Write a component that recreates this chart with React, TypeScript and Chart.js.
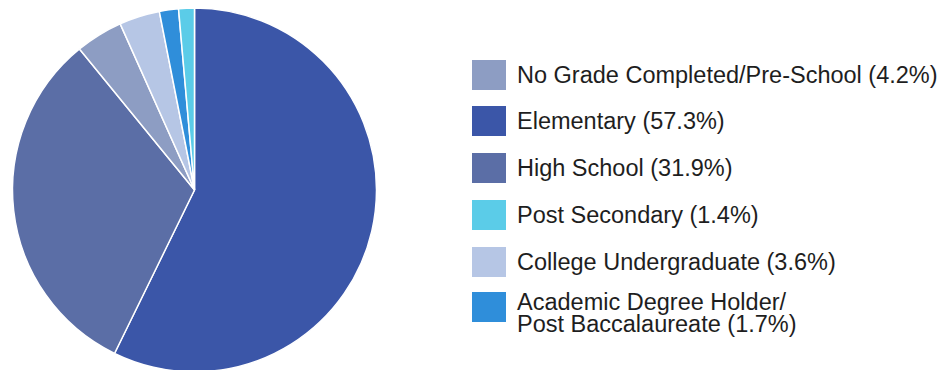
import React, { useEffect, useRef } from "react";
import { Chart, registerables } from "chart.js";

Chart.register(...registerables);

// Slices in drawing order (clockwise from 12 o'clock)
const categories = [
  "Elementary",
  "High School",
  "No Grade Completed/Pre-School",
  "College Undergraduate",
  "Academic Degree Holder/Post Baccalaureate",
  "Post Secondary",
];
const values = [57.3, 31.9, 4.2, 3.6, 1.7, 1.4];
const colors = ["#3b56a8", "#5b6ea6", "#8d9dc3", "#b6c6e5", "#2f8eda", "#5bcce8"];

// Legend order and labels (lines)
const legendOrder = [2, 0, 1, 5, 3, 4];
const legendLines = [
  ["Elementary (57.3%)"],
  ["High School (31.9%)"],
  ["No Grade Completed/Pre-School (4.2%)"],
  ["College Undergraduate (3.6%)"],
  ["Academic Degree Holder/", "Post Baccalaureate (1.7%)"],
  ["Post Secondary (1.4%)"],
];

export default function App() {
  const ref = useRef<HTMLCanvasElement | null>(null);

  useEffect(() => {
    if (!ref.current) return;
    const chart = new Chart(ref.current, {
      type: "pie",
      data: {
        labels: categories,
        datasets: [
          {
            data: values,
            backgroundColor: colors,
            borderColor: "#ffffff",
            borderWidth: 1.5,
          },
        ],
      },
      options: {
        animation: false,
        responsive: false,
        radius: 182,
        layout: { padding: 0 },
        plugins: {
          legend: { display: false },
          tooltip: { enabled: false },
        },
      },
    });
    return () => chart.destroy();
  }, []);

  const rowTops = [60, 106, 153, 200, 247, 292];

  return (
    <div
      style={{
        position: "fixed",
        left: 0,
        top: 0,
        width: 943,
        height: 370,
        overflow: "hidden",
        background: "#ffffff",
        fontFamily: "'Liberation Sans', Arial, sans-serif",
      }}
    >
      <canvas
        ref={ref}
        width={389}
        height={380}
        style={{ position: "absolute", left: 0, top: 0, width: 389, height: 380 }}
      />
      {legendOrder.map((idx, i) => {
        const lines = legendLines[idx];
        const top = rowTops[i];
        return (
          <div key={idx}>
            <div
              style={{
                position: "absolute",
                left: 472,
                top: top,
                width: 34,
                height: 30,
                background: colors[idx],
              }}
            />
            <div
              style={{
                position: "absolute",
                left: 517,
                top: lines.length > 1 ? top - 1 : top + 2,
                fontSize: 23.5,
                lineHeight: lines.length > 1 ? "22px" : "26px",
                color: "#1e1e1e",
                whiteSpace: "nowrap",
              }}
            >
              {lines.map((l, j) => (
                <div key={j}>{l}</div>
              ))}
            </div>
          </div>
        );
      })}
    </div>
  );
}
